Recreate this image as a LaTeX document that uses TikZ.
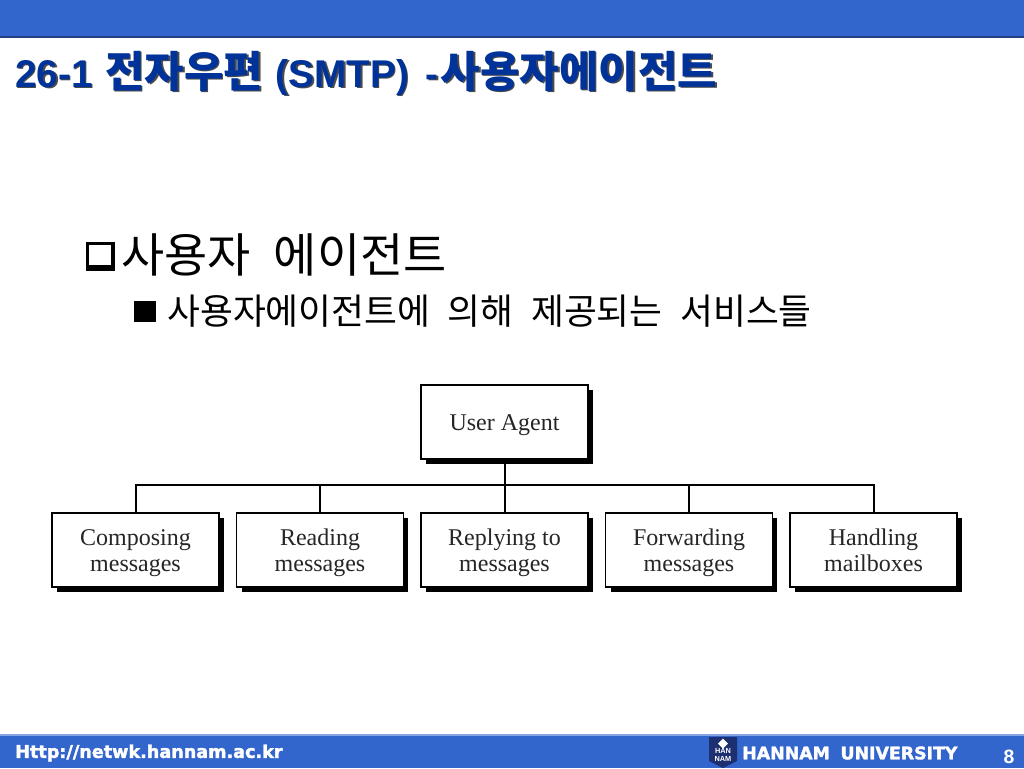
\documentclass[tikz,border=0pt]{standalone}
\usepackage{fontspec}
\usetikzlibrary{shadows}
\setmainfont{Liberation Serif}
\newfontfamily\titlelat{Liberation Sans}[BoldFont={Liberation Sans Bold}]
\newfontfamily\titlecjk{Noto Sans CJK KR}[Scale=1.11]
\newfontfamily\bodycjk{Noto Sans CJK KR}[WordSpace=2.2]
\newfontfamily\footfont{DejaVu Sans}[BoldFeatures={FakeBold=2}]
\definecolor{band}{HTML}{3366CC}
\definecolor{bandline}{HTML}{24407F}
\definecolor{titleblue}{HTML}{003399}
\definecolor{logonavy}{HTML}{1C2F70}
\newcommand{\titletext}{{\titlelat\bfseries 26-1\hspace{9.5pt}}{\titlecjk\bfseries 전자우편}{\titlelat\bfseries\hspace{9.5pt}(SMTP)\hspace{12.5pt}-\hspace{1.5pt}}{\titlecjk\bfseries 사용자에이전트}}
\newcommand{\boxstrut}{\rule{0pt}{18.15pt}}
\tikzset{
  boxnode/.style={draw=black,line width=1.2pt,fill=white,minimum width=125pt,minimum height=55.5pt,
    inner sep=0pt,align=center,font=\fontsize{18}{19.5}\selectfont,text=black!85,
    drop shadow={shadow xshift=3.75pt,shadow yshift=-3.75pt,opacity=1,fill=black}},
  conn/.style={draw=black,line width=1.5pt},
  titlenode/.style={anchor=west,inner sep=0pt,font=\fontsize{29}{30}\selectfont},
  footnode/.style={anchor=west,inner sep=0pt,text=white}
}
\begin{document}
\begin{tikzpicture}[x=0.75pt,y=-0.75pt]
\useasboundingbox (0,0) rectangle (1024,768);
\fill[white] (0,0) rectangle (1024,768);
% bands
\fill[band] (0,0) rectangle (1024,35.5);
\fill[bandline] (0,35.5) rectangle (1024,37.5);
\fill[band] (0,735) rectangle (1024,768);
\fill[band!60!white] (0,734) rectangle (1024,736);
% title
\node[titlenode,text=black!70] (titleshadow) at (16.5,74.5) {\titletext};
\node[titlenode,text=titleblue] (title) at (15,73) {\titletext};
% bullets
\fill[black] (86,242) rectangle (115,270.5);
\fill[white] (89,245) rectangle (110.5,265);
\fill[black] (134,301) rectangle (156,322);
% headings
\node[anchor=west,inner sep=0pt,font=\bodycjk\fontsize{35.2}{36}\selectfont] (h1) at (121,255) {사용자 에이전트};
\node[anchor=west,inner sep=0pt,font=\bodycjk\fontsize{26.8}{28}\selectfont] (h2) at (167,311) {사용자에이전트에 의해 제공되는 서비스들};
% diagram
\node[boxnode] (ua) at (504.5,422) {\boxstrut\strut User Agent};
\node[boxnode] (b1) at (135.5,550) {\boxstrut\strut Composing\\\strut messages};
\node[boxnode] (b2) at (320,550) {\boxstrut\strut Reading\\\strut messages};
\node[boxnode] (b3) at (504.5,550) {\boxstrut\strut Replying to\\\strut messages};
\node[boxnode] (b4) at (689,550) {\boxstrut\strut Forwarding\\\strut messages};
\node[boxnode] (b5) at (873.5,550) {\boxstrut\strut Handling\\\strut mailboxes};
\coordinate (bus) at (504.5,485);
\draw[conn] (ua.south) -- (bus);
\draw[conn] (b1.north) |- (bus);
\draw[conn] (b2.north) |- (bus);
\draw[conn] (b3.north) -- (bus);
\draw[conn] (b4.north) |- (bus);
\draw[conn] (b5.north) |- (bus);
% footer
\node[footnode,font=\footfont\bfseries\fontsize{13.2}{15}\selectfont] (url) at (15,753) {Http://netwk.hannam.ac.kr};
\fill[logonavy] (709,737) -- (737,737) -- (737,761) -- (723,768) -- (709,761) -- cycle;
\fill[white] (723,738.5) -- (728,743.5) -- (723,748.5) -- (718,743.5) -- cycle;
\node[inner sep=0pt,align=center,text=white,font=\titlelat\bfseries\fontsize{5.5}{5.5}\selectfont] (logo) at (723,755) {HAN\\NAM};
\node[footnode,font=\footfont\bfseries\fontsize{13}{15}\selectfont] (uni) at (742,753) {HANNAM\hspace{8pt}UNIVERSITY};
\node[anchor=center,inner sep=0pt,text=white,font=\titlelat\bfseries\fontsize{14.5}{15}\selectfont] (page) at (1009,757) {8};
\end{tikzpicture}
\end{document}
